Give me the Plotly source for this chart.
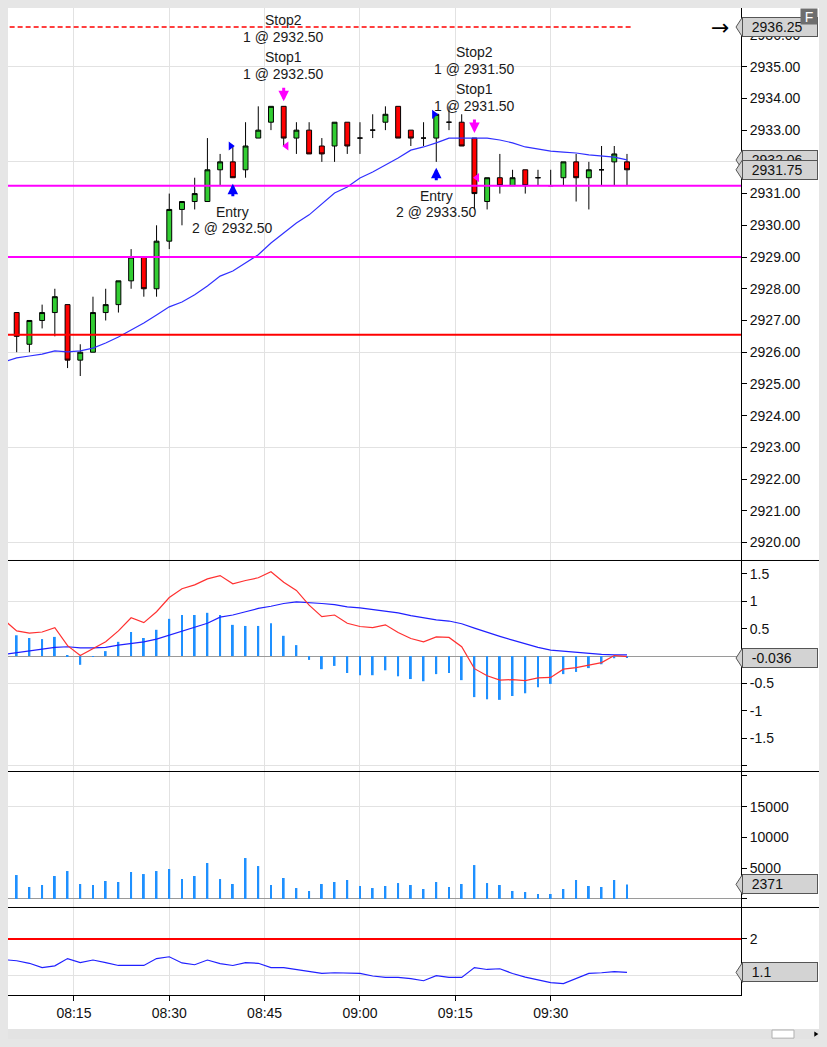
import pandas as pd
import plotly.graph_objects as go

DAY = "2019-07-15"

# 2-minute bars
BAR_TIMES = [
    "08:06", "08:08", "08:10", "08:12", "08:14", "08:16", "08:18", "08:20", "08:22", "08:24",
    "08:26", "08:28", "08:30", "08:32", "08:34", "08:36", "08:38", "08:40", "08:42", "08:44",
    "08:46", "08:48", "08:50", "08:52", "08:54", "08:56", "08:58", "09:00", "09:02", "09:04",
    "09:06", "09:08", "09:10", "09:12", "09:14", "09:16", "09:18", "09:20", "09:22", "09:24",
    "09:26", "09:28", "09:30", "09:32", "09:34", "09:36", "09:38", "09:40", "09:42",
]
OPEN = [
    2927.25, 2926.25, 2927.00, 2927.25, 2927.50, 2925.75, 2926.00, 2927.25, 2927.50, 2928.25,
    2929.00, 2928.00, 2929.50, 2930.50, 2930.75, 2930.75, 2931.75, 2932.00, 2931.75, 2932.75,
    2933.25, 2933.75, 2932.75, 2933.00, 2932.50, 2932.50, 2933.25, 2932.75, 2933.00, 2933.25,
    2933.75, 2933.00, 2932.75, 2932.75, 2933.25, 2933.25, 2932.75, 2930.75, 2931.50, 2931.25,
    2931.75, 2931.50, 2931.25, 2931.50, 2932.00, 2931.50, 2931.75, 2932.00, 2932.00,
]
HIGH = [
    2927.25, 2927.00, 2927.50, 2928.00, 2927.50, 2926.25, 2927.75, 2928.00, 2928.25, 2929.25,
    2929.00, 2930.00, 2931.00, 2930.75, 2931.50, 2932.75, 2932.25, 2932.50, 2933.25, 2933.75,
    2933.75, 2933.75, 2933.25, 2933.25, 2932.75, 2933.25, 2933.25, 2933.25, 2933.50, 2933.75,
    2933.75, 2933.00, 2933.25, 2933.50, 2933.75, 2933.50, 2932.75, 2931.50, 2932.25, 2931.75,
    2931.75, 2931.75, 2931.75, 2932.00, 2932.25, 2932.00, 2932.50, 2932.50, 2932.25,
]
LOW = [
    2926.00, 2926.00, 2926.75, 2926.50, 2925.50, 2925.25, 2926.00, 2927.00, 2927.25, 2928.00,
    2927.75, 2927.75, 2929.25, 2930.00, 2930.50, 2930.75, 2931.25, 2931.50, 2931.50, 2932.75,
    2933.00, 2932.50, 2932.25, 2932.25, 2932.00, 2932.00, 2932.25, 2932.25, 2932.75, 2933.00,
    2932.75, 2932.50, 2932.50, 2932.00, 2933.00, 2932.50, 2930.50, 2930.50, 2931.00, 2931.25,
    2931.00, 2931.25, 2931.25, 2931.25, 2930.75, 2930.50, 2931.25, 2931.25, 2931.25,
]
CLOSE = [
    2926.50, 2927.00, 2927.25, 2927.75, 2925.75, 2926.00, 2927.25, 2927.50, 2928.25, 2929.00,
    2928.00, 2929.50, 2930.50, 2930.75, 2931.00, 2931.75, 2932.00, 2931.50, 2932.50, 2933.00,
    2933.75, 2932.75, 2933.00, 2932.25, 2932.25, 2933.25, 2932.50, 2932.75, 2933.00, 2933.50,
    2932.75, 2932.75, 2932.75, 2933.50, 2933.25, 2932.50, 2931.00, 2931.50, 2931.25, 2931.50,
    2931.25, 2931.50, 2931.25, 2932.00, 2931.50, 2931.75, 2931.75, 2932.25, 2931.75,
]
VOLUME = [
    3890, 1950, 2270, 3730, 4540, 2430, 2270, 2920, 2760, 4380,
    4050, 4540, 4870, 3240, 3730, 5840, 3240, 2430, 6650, 5350,
    2270, 3410, 1780, 1300, 2430, 2760, 3080, 2110, 1780, 2110,
    2590, 2270, 1620, 2760, 1950, 2430, 5510, 2590, 2270, 1300,
    1140, 810, 810, 1620, 3080, 2110, 1950, 3080, 2371,
]
HIST = [
    0.38, 0.33, 0.31, 0.35, 0.01, -0.16, -0.01, 0.09, 0.26, 0.44,
    0.33, 0.48, 0.68, 0.75, 0.75, 0.79, 0.75, 0.57, 0.55, 0.55,
    0.60, 0.37, 0.20, -0.07, -0.24, -0.18, -0.31, -0.35, -0.35, -0.26,
    -0.37, -0.42, -0.46, -0.33, -0.31, -0.44, -0.75, -0.79, -0.80, -0.73,
    -0.68, -0.57, -0.51, -0.33, -0.29, -0.22, -0.15, -0.04, -0.036,
]

# indicator lines also carry the bar just left of the visible window
LINE_TIMES = ["08:04"] + BAR_TIMES
SMA = [
    2925.69,
    2925.82, 2925.88, 2925.94, 2926.04, 2926.01, 2926.04, 2926.13, 2926.29, 2926.48, 2926.70,
    2926.92, 2927.17, 2927.43, 2927.58, 2927.81, 2928.09, 2928.40, 2928.56, 2928.81, 2929.07,
    2929.44, 2929.76, 2930.07, 2930.33, 2930.67, 2931.02, 2931.21, 2931.49, 2931.68, 2931.90,
    2932.12, 2932.37, 2932.47, 2932.60, 2932.75, 2932.75, 2932.75, 2932.75, 2932.69, 2932.60,
    2932.47, 2932.41, 2932.34, 2932.31, 2932.28, 2932.22, 2932.19, 2932.15, 2932.06,
]
MACD = [
    0.66,
    0.46, 0.42, 0.44, 0.52, 0.19, 0.01, 0.13, 0.26, 0.46, 0.70,
    0.61, 0.81, 1.07, 1.23, 1.30, 1.41, 1.47, 1.32, 1.38, 1.43,
    1.54, 1.35, 1.20, 0.93, 0.72, 0.75, 0.60, 0.54, 0.52, 0.57,
    0.43, 0.32, 0.26, 0.35, 0.34, 0.17, -0.23, -0.36, -0.44, -0.43,
    -0.45, -0.40, -0.39, -0.24, -0.21, -0.16, -0.12, 0.01, -0.01,
]
SIGNAL = [
    0.03,
    0.06, 0.10, 0.12, 0.16, 0.17, 0.15, 0.15, 0.16, 0.20, 0.23,
    0.26, 0.31, 0.38, 0.46, 0.53, 0.60, 0.71, 0.75, 0.81, 0.87,
    0.91, 0.96, 0.99, 0.98, 0.96, 0.94, 0.90, 0.88, 0.85, 0.81,
    0.79, 0.74, 0.70, 0.66, 0.64, 0.59, 0.51, 0.43, 0.36, 0.29,
    0.22, 0.16, 0.11, 0.09, 0.06, 0.04, 0.03, 0.02, 0.02,
]
OSC = [
    1.43,
    1.40, 1.33, 1.21, 1.26, 1.46, 1.35, 1.42, 1.35, 1.27, 1.27,
    1.27, 1.46, 1.51, 1.34, 1.29, 1.42, 1.32, 1.27, 1.35, 1.33,
    1.21, 1.21, 1.16, 1.12, 1.05, 1.07, 1.07, 1.05, 0.98, 0.94,
    0.94, 0.91, 0.85, 0.99, 0.94, 0.94, 1.21, 1.16, 1.18, 1.05,
    0.95, 0.87, 0.80, 0.77, 0.91, 1.05, 1.07, 1.10, 1.08,
]

# levels
STOP_ORDER_LEVEL = 2936.25
MAGENTA_LEVELS = [2931.25, 2929.00]
RED_LEVEL = 2926.55
OSC_LEVEL = 2.0

# executions
ENTRY_TIMES = ["08:40", "09:12"]
ENTRY_PRICES = [2932.50, 2933.50]
ENTRY_QTY = [2, 2]
EXIT_TIMES = ["08:48", "09:18"]
EXIT_PRICES = [2932.50, 2931.50]
EXIT_QTY = [1, 1]

# axes
X_RANGE = ["08:04:38", "09:59:56"]
TIME_TICKS = ["08:15", "08:30", "08:45", "09:00", "09:15", "09:30"]
PRICE_RANGE = [2919.45, 2936.85]
PRICE_TICKS = list(range(2920, 2937))
PRICE_HIDDEN = [2932]  # sits under the value tags
PRICE_GRID = [2920, 2923, 2926, 2929, 2932, 2935]
MACD_RANGE = [-2.10, 1.755]
MACD_TICKS = [-2, -1.5, -1, -0.5, 0, 0.5, 1, 1.5]
MACD_TICK_TEXT = ["", "-1.5", "-1", "-0.5", "", "0.5", "1", "1.5"]
MACD_GRID = [-2, -0.5, 1]
VOL_RANGE = [-1300, 20780]
VOL_TICKS = [0, 5000, 10000, 15000, 20000]
VOL_TICK_TEXT = ["", "5000", "10000", "15000", ""]
VOL_GRID = [15000]
OSC_RANGE = [0.457, 2.88]
OSC_TICKS = [1, 2]
OSC_TICK_TEXT = ["", "2"]

# panel layout (paper fractions of the 987px plot height)
DOMAINS = {"y": [0.44073, 1.0], "y2": [0.22695, 0.44073], "y3": [0.08916, 0.22695],
           "y4": [0.0, 0.08916]}
HALF_PX = 0.5 / 987

FONT = "Liberation Sans, Arial, sans-serif"
GRID = "#e2e2e2"
TAG_FILL = "#d3d3d3"
TAG_EDGE = "#555555"


def ts(hm):
    return pd.Timestamp(f"{DAY} {hm}")


bar_x = [ts(h) for h in BAR_TIMES]
line_x = [ts(h) for h in LINE_TIMES]

fig = go.Figure()

fig.add_trace(go.Candlestick(
    x=bar_x, open=OPEN, high=HIGH, low=LOW, close=CLOSE,
    increasing=dict(fillcolor="#32cd32", line=dict(color="black", width=1)),
    decreasing=dict(fillcolor="#ff0000", line=dict(color="black", width=1)),
    whiskerwidth=0, hoverinfo="skip", showlegend=False, xaxis="x", yaxis="y",
))
fig.add_trace(go.Scatter(x=line_x, y=SMA, mode="lines", line=dict(color="#3030ff", width=1.2),
                         hoverinfo="skip", showlegend=False, xaxis="x", yaxis="y"))
# stop order line runs to just after the last bar
fig.add_trace(go.Scatter(
    x=[ts(X_RANGE[0]) - pd.Timedelta(minutes=1), bar_x[-1] + pd.Timedelta(minutes=1)],
    y=[STOP_ORDER_LEVEL, STOP_ORDER_LEVEL], mode="lines",
    line=dict(color="#ff0000", width=1.6, dash="5px,3px"),
    hoverinfo="skip", showlegend=False, xaxis="x", yaxis="y",
))
fig.add_trace(go.Scatter(
    x=[ts(t) - pd.Timedelta(seconds=20) for t in ENTRY_TIMES], y=ENTRY_PRICES, mode="markers",
    marker=dict(symbol="triangle-right", size=8, color="#0000ff"),
    hoverinfo="skip", showlegend=False, xaxis="x", yaxis="y",
))
fig.add_trace(go.Scatter(
    x=[ts(t) + pd.Timedelta(seconds=25) for t in EXIT_TIMES], y=EXIT_PRICES, mode="markers",
    marker=dict(symbol="triangle-left", size=8, color="#ff00ff"),
    hoverinfo="skip", showlegend=False, xaxis="x", yaxis="y",
))

# MACD panel
fig.add_trace(go.Bar(x=bar_x, y=HIST, width=18000, marker=dict(color="#1e90ff", line=dict(width=0)),
                     hoverinfo="skip", showlegend=False, xaxis="x", yaxis="y2"))
fig.add_trace(go.Scatter(x=line_x, y=SIGNAL, mode="lines", line=dict(color="#2020ff", width=1.2),
                         hoverinfo="skip", showlegend=False, xaxis="x", yaxis="y2"))
fig.add_trace(go.Scatter(x=line_x, y=MACD, mode="lines", line=dict(color="#ff3030", width=1.2),
                         hoverinfo="skip", showlegend=False, xaxis="x", yaxis="y2"))

# volume panel
fig.add_trace(go.Bar(x=bar_x, y=VOLUME, width=18000, marker=dict(color="#1e90ff", line=dict(width=0)),
                     hoverinfo="skip", showlegend=False, xaxis="x", yaxis="y3"))

# bottom oscillator
fig.add_trace(go.Scatter(x=line_x, y=OSC, mode="lines", line=dict(color="#2020ff", width=1.2),
                         hoverinfo="skip", showlegend=False, xaxis="x", yaxis="y4"))

# empty traces so the grid-only overlay axes get drawn
for ax in ["y5", "y6", "y7"]:
    fig.add_trace(go.Scatter(x=[], y=[], xaxis="x", yaxis=ax, showlegend=False, hoverinfo="skip"))

# level lines (drawing objects sit on top of the bars)
for lvl in MAGENTA_LEVELS:
    fig.add_shape(type="line", xref="paper", yref="y", x0=0, x1=1, y0=lvl, y1=lvl,
                  line=dict(color="#ff00ff", width=2), layer="above")
fig.add_shape(type="line", xref="paper", yref="y", x0=0, x1=1, y0=RED_LEVEL, y1=RED_LEVEL,
              line=dict(color="#ff0000", width=2), layer="above")
fig.add_shape(type="line", xref="paper", yref="y4", x0=0, x1=1, y0=OSC_LEVEL, y1=OSC_LEVEL,
              line=dict(color="#ff0000", width=2), layer="above")

# execution arrows and texts
text_font = dict(family=FONT, size=14, color="#1a1a1a")
for tm, price, qty in zip(ENTRY_TIMES, ENTRY_PRICES, ENTRY_QTY):
    i = BAR_TIMES.index(tm)
    fig.add_annotation(x=ts(tm), y=LOW[i], xref="x", yref="y", text="", showarrow=True,
                       ax=0, ay=20, standoff=6, arrowhead=2, arrowsize=0.7, arrowwidth=3,
                       arrowcolor="#0000ff")
    for line, shift in [("Entry", -34.5), (f"{qty} @ {price:.2f}", -50.5)]:
        fig.add_annotation(x=ts(tm), y=LOW[i], xref="x", yref="y", text=line, showarrow=False,
                           yanchor="middle", yshift=shift, font=text_font)

for tm, price, qty in zip(EXIT_TIMES, EXIT_PRICES, EXIT_QTY):
    i = BAR_TIMES.index(tm)
    fig.add_annotation(x=ts(tm), y=HIGH[i], xref="x", yref="y", text="", showarrow=True,
                       ax=0, ay=-20, standoff=5, arrowhead=2, arrowsize=0.7, arrowwidth=3,
                       arrowcolor="#ff00ff")
    for line, shift in [("Stop2", 86.5), (f"{qty} @ {price:.2f}", 69),
                        ("Stop1", 49), (f"{qty} @ {price:.2f}", 32)]:
        fig.add_annotation(x=ts(tm), y=HIGH[i], xref="x", yref="y", text=line, showarrow=False,
                           yanchor="middle", yshift=shift, font=text_font)


def value_tag(yref, value, text):
    fig.add_shape(type="path", xref="paper", yref=yref, xsizemode="pixel", ysizemode="pixel",
                  xanchor=1, yanchor=value, path="M -5,0 L 1.5,10 L 1.5,-10 Z",
                  fillcolor=TAG_FILL, line=dict(color=TAG_EDGE, width=1), layer="above")
    fig.add_annotation(xref="paper", yref=yref, x=1, y=value, xanchor="left", yanchor="middle",
                       xshift=1, text="\u00a0\u00a0" + text, showarrow=False, align="left",
                       width=72, height=16, bgcolor=TAG_FILL, bordercolor=TAG_EDGE,
                       borderwidth=1, borderpad=1, font=dict(family=FONT, size=14, color="#111"))


value_tag("y", STOP_ORDER_LEVEL, f"{STOP_ORDER_LEVEL:.2f}")
value_tag("y", SMA[-1], f"{SMA[-1]:.2f}")
value_tag("y", CLOSE[-1], f"{CLOSE[-1]:.2f}")
value_tag("y2", HIST[-1], f"{HIST[-1]:.3f}")
value_tag("y3", VOLUME[-1], f"{VOLUME[-1]}")
value_tag("y4", OSC[-1], f"{OSC[-1]:.1f}")

# arrow pointing to the order label
fig.add_annotation(xref="paper", yref="y", x=0.972, y=STOP_ORDER_LEVEL, text="\u2192",
                   showarrow=False, xanchor="center", yanchor="middle",
                   font=dict(family="DejaVu Sans", size=22, color="black"))
# "F" badge in the window corner
fig.add_annotation(xref="paper", yref="paper", x=1.0928, y=0.9914, text="F", showarrow=False,
                   xanchor="center", yanchor="middle", width=14, height=13, bgcolor="#6e6e6e",
                   borderpad=1, font=dict(family=FONT, size=14, color="white"))

# panel separators, scrollbar
W_FRAME = 1.1078
for key in ["y", "y2", "y3"]:
    yb = DOMAINS[key][0] - HALF_PX
    fig.add_shape(type="line", xref="paper", yref="paper", x0=0, x1=W_FRAME, y0=yb, y1=yb,
                  line=dict(color="black", width=1))
fig.add_shape(type="rect", xref="paper", yref="paper", x0=0, x1=W_FRAME, y0=-0.0446, y1=-0.0345,
              fillcolor="#e3e3e3", line=dict(width=0))
fig.add_shape(type="rect", xref="paper", yref="paper", x0=1.0423, x1=1.0723, y0=-0.0437,
              y1=-0.0355, fillcolor="white", line=dict(color="#b0b0b0", width=1))
fig.add_shape(type="path", xref="paper", yref="paper",
              path="M 1.1, -0.0370 L 1.1055, -0.0396 L 1.1, -0.0422 Z",
              fillcolor="black", line=dict(width=0))

axis_common = dict(side="right", showline=True, linecolor="black", linewidth=1,
                   ticks="outside", ticklen=5, tickcolor="black", anchor="x", zeroline=False,
                   tickfont=dict(family=FONT, size=14, color="#111"), fixedrange=True)
grid_common = dict(side="right", anchor="x", showgrid=True, gridcolor=GRID, gridwidth=1,
                   showticklabels=False, ticks="", showline=False, zeroline=False,
                   tickmode="array")

# the page body keeps its 8px margin, so the figure is the chart window itself
fig.update_layout(
    width=811, height=1031,
    margin=dict(l=0, r=78, t=0, b=44),
    paper_bgcolor="white", plot_bgcolor="white",
    font=dict(family=FONT, size=14, color="#111"),
    showlegend=False, hovermode=False, boxgap=0.45, boxgroupgap=0.3,
    xaxis=dict(
        type="date", range=[ts(X_RANGE[0]), ts(X_RANGE[1])], anchor="y4",
        tickmode="array", tickvals=[ts(t) for t in TIME_TICKS], ticktext=TIME_TICKS,
        showgrid=True, gridcolor=GRID, showline=True, linecolor="black",
        ticks="outside", ticklen=5, tickcolor="black", rangeslider=dict(visible=False),
        tickfont=dict(family=FONT, size=14, color="#111"), fixedrange=True,
    ),
    yaxis=dict(domain=DOMAINS["y"], range=PRICE_RANGE, tickmode="array",
               tickvals=PRICE_TICKS,
               ticktext=["" if v in PRICE_HIDDEN else f"{v:.2f}" for v in PRICE_TICKS],
               showgrid=False, **axis_common),
    yaxis2=dict(domain=DOMAINS["y2"], range=MACD_RANGE, tickmode="array",
                tickvals=MACD_TICKS, ticktext=MACD_TICK_TEXT, showgrid=False,
                **{**axis_common, "zeroline": True}, zerolinecolor="#9a9a9a", zerolinewidth=1),
    yaxis3=dict(domain=DOMAINS["y3"], range=VOL_RANGE, tickmode="array",
                tickvals=VOL_TICKS, ticktext=VOL_TICK_TEXT, showgrid=False,
                **{**axis_common, "zeroline": True}, zerolinecolor="#9a9a9a", zerolinewidth=1),
    yaxis4=dict(domain=DOMAINS["y4"], range=OSC_RANGE, tickmode="array",
                tickvals=OSC_TICKS, ticktext=OSC_TICK_TEXT,
                showgrid=True, gridcolor=GRID, **axis_common),
    yaxis5=dict(overlaying="y", range=PRICE_RANGE, tickvals=PRICE_GRID, **grid_common),
    yaxis6=dict(overlaying="y2", range=MACD_RANGE, tickvals=MACD_GRID, **grid_common),
    yaxis7=dict(overlaying="y3", range=VOL_RANGE, tickvals=VOL_GRID, **grid_common),
)

fig.write_html("out.html", post_script="document.body.style.background = '#e6e6e6';")
